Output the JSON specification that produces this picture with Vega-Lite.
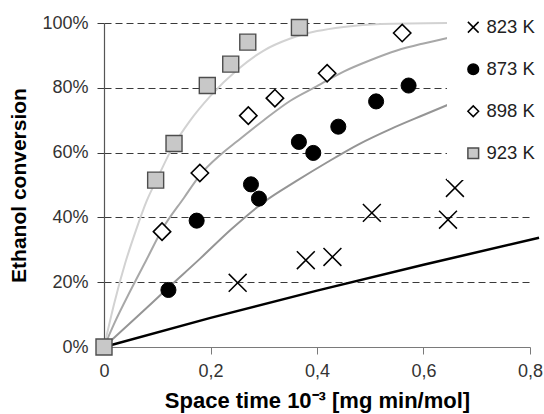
{
  "$schema": "https://vega.github.io/schema/vega-lite/v6.json",
  "width": 426,
  "height": 324,
  "autosize": "none",
  "padding": {"left": 104, "top": 23, "right": 14, "bottom": 67},
  "background": "white",
  "config": {
    "view": {"stroke": null},
    "font": "Liberation Sans",
    "legend": {
      "orient": "none",
      "legendX": 343,
      "legendY": -22,
      "fillColor": "white",
      "padding": 17,
      "labelFontSize": 18.5,
      "labelColor": "#222222",
      "labelFont": "Liberation Sans",
      "symbolSize": 115,
      "symbolStrokeWidth": 1.5,
      "rowPadding": 23,
      "labelOffset": 4
    }
  },
  "datasets": {
    "curves": [
      {"T": "823 K", "t": 0, "v": 0},
      {"T": "823 K", "t": 0.2, "v": 0.09},
      {"T": "823 K", "t": 0.4, "v": 0.174},
      {"T": "823 K", "t": 0.6, "v": 0.254},
      {"T": "823 K", "t": 0.817, "v": 0.337},
      {"T": "873 K", "t": 0, "v": 0},
      {"T": "873 K", "t": 0.06, "v": 0.09},
      {"T": "873 K", "t": 0.12, "v": 0.182},
      {"T": "873 K", "t": 0.18, "v": 0.272},
      {"T": "873 K", "t": 0.24, "v": 0.365},
      {"T": "873 K", "t": 0.30, "v": 0.447},
      {"T": "873 K", "t": 0.36, "v": 0.511},
      {"T": "873 K", "t": 0.42, "v": 0.571},
      {"T": "873 K", "t": 0.48, "v": 0.627},
      {"T": "873 K", "t": 0.54, "v": 0.674},
      {"T": "873 K", "t": 0.60, "v": 0.716},
      {"T": "873 K", "t": 0.645, "v": 0.747},
      {"T": "898 K", "t": 0, "v": 0},
      {"T": "898 K", "t": 0.02, "v": 0.075},
      {"T": "898 K", "t": 0.05, "v": 0.175},
      {"T": "898 K", "t": 0.08, "v": 0.27},
      {"T": "898 K", "t": 0.11, "v": 0.365},
      {"T": "898 K", "t": 0.15, "v": 0.46},
      {"T": "898 K", "t": 0.18, "v": 0.53},
      {"T": "898 K", "t": 0.22, "v": 0.595},
      {"T": "898 K", "t": 0.25, "v": 0.635},
      {"T": "898 K", "t": 0.30, "v": 0.70},
      {"T": "898 K", "t": 0.35, "v": 0.76},
      {"T": "898 K", "t": 0.40, "v": 0.805},
      {"T": "898 K", "t": 0.45, "v": 0.85},
      {"T": "898 K", "t": 0.50, "v": 0.885},
      {"T": "898 K", "t": 0.55, "v": 0.915},
      {"T": "898 K", "t": 0.60, "v": 0.937},
      {"T": "898 K", "t": 0.645, "v": 0.954},
      {"T": "923 K", "t": 0, "v": 0},
      {"T": "923 K", "t": 0.02, "v": 0.14},
      {"T": "923 K", "t": 0.04, "v": 0.26},
      {"T": "923 K", "t": 0.06, "v": 0.36},
      {"T": "923 K", "t": 0.08, "v": 0.45},
      {"T": "923 K", "t": 0.10, "v": 0.52},
      {"T": "923 K", "t": 0.13, "v": 0.62},
      {"T": "923 K", "t": 0.16, "v": 0.695},
      {"T": "923 K", "t": 0.20, "v": 0.775},
      {"T": "923 K", "t": 0.25, "v": 0.855},
      {"T": "923 K", "t": 0.30, "v": 0.915},
      {"T": "923 K", "t": 0.35, "v": 0.952},
      {"T": "923 K", "t": 0.40, "v": 0.975},
      {"T": "923 K", "t": 0.45, "v": 0.988},
      {"T": "923 K", "t": 0.52, "v": 0.997},
      {"T": "923 K", "t": 0.645, "v": 1.0}
    ],
    "measured": [
      {"T": "823 K", "t": 0.251, "v": 0.198},
      {"T": "823 K", "t": 0.379, "v": 0.268},
      {"T": "823 K", "t": 0.429, "v": 0.278},
      {"T": "823 K", "t": 0.503, "v": 0.414},
      {"T": "823 K", "t": 0.646, "v": 0.393},
      {"T": "823 K", "t": 0.659, "v": 0.491},
      {"T": "873 K", "t": 0.121, "v": 0.176},
      {"T": "873 K", "t": 0.174, "v": 0.39},
      {"T": "873 K", "t": 0.276, "v": 0.502},
      {"T": "873 K", "t": 0.291, "v": 0.458},
      {"T": "873 K", "t": 0.366, "v": 0.633},
      {"T": "873 K", "t": 0.393, "v": 0.599},
      {"T": "873 K", "t": 0.44, "v": 0.68},
      {"T": "873 K", "t": 0.511, "v": 0.758},
      {"T": "873 K", "t": 0.572, "v": 0.807},
      {"T": "898 K", "t": 0.109, "v": 0.356},
      {"T": "898 K", "t": 0.18, "v": 0.537},
      {"T": "898 K", "t": 0.271, "v": 0.714},
      {"T": "898 K", "t": 0.321, "v": 0.768},
      {"T": "898 K", "t": 0.419, "v": 0.845},
      {"T": "898 K", "t": 0.56, "v": 0.969},
      {"T": "923 K", "t": 0, "v": 0},
      {"T": "923 K", "t": 0.097, "v": 0.515},
      {"T": "923 K", "t": 0.1315, "v": 0.628},
      {"T": "923 K", "t": 0.194, "v": 0.807},
      {"T": "923 K", "t": 0.238, "v": 0.873},
      {"T": "923 K", "t": 0.27, "v": 0.941},
      {"T": "923 K", "t": 0.367, "v": 0.986}
    ]
  },
  "encoding": {
    "x": {
      "field": "t",
      "type": "quantitative",
      "scale": {"domain": [0, 0.8], "nice": false, "zero": false},
      "axis": {
        "values": [0, 0.2, 0.4, 0.6, 0.8],
        "labelExpr": "datum.value == 0 ? '0' : replace(format(datum.value, '.1f'), '.', ',')",
        "grid": false,
        "tickSize": 7,
        "tickColor": "#7a7a7a",
        "domainColor": "#7a7a7a",
        "domainWidth": 1.2,
        "labelFontSize": 18,
        "labelColor": "#333333",
        "labelPadding": 8,
        "labelFlush": false,
        "labelFont": "Liberation Sans",
        "title": "Space time 10⁻³ [mg min/mol]",
        "titleFont": "Liberation Sans",
        "titleFontSize": 22,
        "titleFontWeight": "bold",
        "titleColor": "#000000",
        "titlePadding": 10
      }
    },
    "y": {
      "field": "v",
      "type": "quantitative",
      "scale": {"domain": [0, 1], "nice": false},
      "axis": {
        "values": [0, 0.2, 0.4, 0.6, 0.8, 1],
        "format": ".0%",
        "grid": true,
        "gridDash": [7, 4],
        "gridColor": "#3a3a3a",
        "gridWidth": 1,
        "tickSize": 7,
        "tickColor": "#3a3a3a",
        "domainColor": "#555555",
        "domainWidth": 1.2,
        "labelFontSize": 18,
        "labelColor": "#333333",
        "labelPadding": 9,
        "labelFlush": false,
        "labelFont": "Liberation Sans",
        "title": "Ethanol conversion",
        "titleFont": "Liberation Sans",
        "titleFontSize": 21,
        "titleFontWeight": "bold",
        "titleColor": "#000000",
        "titlePadding": 12
      }
    }
  },
  "layer": [
    {
      "data": {"name": "curves"},
      "transform": [{"filter": "datum.T != '823 K'"}],
      "mark": {"type": "line", "strokeWidth": 2, "clip": false, "interpolate": "monotone"},
      "encoding": {
        "color": {
          "field": "T",
          "type": "nominal",
          "scale": {"domain": ["873 K", "898 K", "923 K"], "range": ["#959595", "#a8a8a8", "#d2d2d2"]},
          "legend": null
        },
        "order": {"field": "t", "type": "quantitative"}
      }
    },
    {
      "data": {"name": "curves"},
      "transform": [{"filter": "datum.T == '823 K'"}],
      "mark": {"type": "line", "color": "#000000", "strokeWidth": 2.5, "clip": false},
      "encoding": {"order": {"field": "t", "type": "quantitative"}}
    },
    {
      "data": {"name": "measured"},
      "encoding": {
        "shape": {
          "field": "T",
          "type": "nominal",
          "scale": {"domain": ["823 K", "873 K", "898 K", "923 K"], "range": ["M-1,-1L1,1M-1,1L1,-1", "circle", "diamond", "square"]},
          "legend": {"title": null}
        },
        "fill": {
          "field": "T",
          "type": "nominal",
          "scale": {"domain": ["823 K", "873 K", "898 K", "923 K"], "range": ["transparent", "#000000", "#ffffff", "#c8c8c8"]},
          "legend": {"title": null}
        },
        "stroke": {
          "field": "T",
          "type": "nominal",
          "scale": {"domain": ["823 K", "873 K", "898 K", "923 K"], "range": ["#000000", "#000000", "#000000", "#4d4d4d"]},
          "legend": {"title": null}
        }
      },
      "layer": [
        {"transform": [{"filter": "datum.T == '823 K'"}], "mark": {"type": "point", "size": 320, "opacity": 1, "strokeWidth": 1.5, "clip": false}},
        {"transform": [{"filter": "datum.T == '873 K'"}], "mark": {"type": "point", "size": 227, "opacity": 1, "strokeWidth": 1, "clip": false}},
        {"transform": [{"filter": "datum.T == '898 K'"}], "mark": {"type": "point", "size": 300, "opacity": 1, "strokeWidth": 1.6, "clip": false}},
        {"transform": [{"filter": "datum.T == '923 K'"}], "mark": {"type": "point", "size": 256, "opacity": 1, "strokeWidth": 1.4, "clip": false}}
      ]
    }
  ]
}
